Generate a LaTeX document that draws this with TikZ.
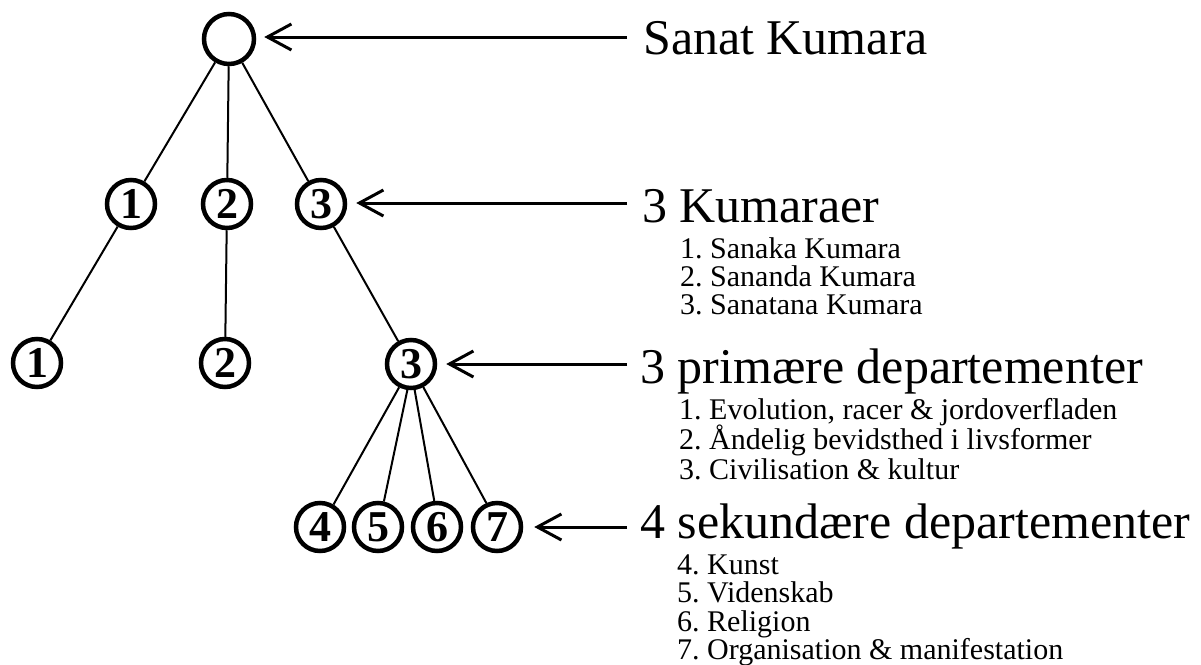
\documentclass[tikz,border=0pt]{standalone}
\usepackage{fontspec}
\setmainfont{Liberation Serif}
\usetikzlibrary{arrows.meta}
\frenchspacing
\begin{document}
\begin{tikzpicture}[x=1pt,y=-1pt,
  num/.style={circle,draw,line width=4.5pt,minimum size=48pt,inner sep=0pt,
    font=\fontsize{44}{44}\selectfont\bfseries},
  edge/.style={line width=2pt},
  arr/.style={line width=3pt,-{Straight Barb[length=24pt,width=26pt]}},
  big/.style={anchor=base west,inner sep=0pt,font=\fontsize{50}{50}\selectfont},
  item/.style={anchor=base west,inner sep=0pt,font=\fontsize{30}{30}\selectfont}]
\useasboundingbox[fill=white] (0,0) rectangle (1201,664);

% tree nodes
\node[num,minimum size=50pt] (top) at (229,39) {};
\node[num] (ka) at (131,204) {1};
\node[num] (kb) at (227,204) {2};
\node[num] (kc) at (321,204) {3};
\node[num] (pa) at (37,363) {1};
\node[num] (pb) at (225,363) {2};
\node[num] (pc) at (411,364) {3};
\node[num] (sa) at (320,527) {4};
\node[num] (sb) at (378,527) {5};
\node[num] (sc) at (437,527) {6};
\node[num] (sd) at (497,527) {7};

% tree edges
\draw[edge] (top) -- (ka);
\draw[edge] (top) -- (kb);
\draw[edge] (top) -- (kc);
\draw[edge] (ka) -- (pa);
\draw[edge] (kb) -- (pb);
\draw[edge] (kc) -- (pc);
\draw[edge] (pc.-117) -- (sa.59);
\draw[edge] (pc.-98) -- (sb.77);
\draw[edge] (pc.-82) -- (sc.96);
\draw[edge] (pc.-62) -- (sd.114);

% labels
\node[big] (l1) at (643,54) {Sanat Kumara};
\node[big] (l2) at (642,222) {3 Kumaraer};
\node[item] (l2a) at (680,258) {1. Sanaka Kumara};
\node[item] (l2b) at (680,286) {2. Sananda Kumara};
\node[item] (l2c) at (680,314) {3. Sanatana Kumara};
\node[big] (l3) at (640,383) {3 primære departementer};
\node[item] (l3a) at (679,419) {1. Evolution, racer \& jordoverfladen};
\node[item] (l3b) at (679,449) {2. Åndelig bevidsthed i livsformer};
\node[item] (l3c) at (679,479) {3. Civilisation \& kultur};
\node[big] (l4) at (640,538) {4 sekundære departementer};
\node[item] (l4a) at (677,574) {4. Kunst};
\node[item] (l4b) at (677,602) {5. Videnskab};
\node[item] (l4c) at (677,631) {6. Religion};
\node[item] (l4d) at (677,659) {7. Organisation \& manifestation};

% arrows
\coordinate (c1) at (627,37);
\coordinate (c2) at (627,203);
\coordinate (c3) at (627,364);
\coordinate (c4) at (627,527);
\draw[arr,shorten >=8pt] (c1) -- (c1 -| top.east);
\draw[arr,shorten >=9pt] (c2) -- (c2 -| kc.east);
\draw[arr,shorten >=9pt] (c3) -- (c3 -| pc.east);
\draw[arr,shorten >=11pt] (c4) -- (c4 -| sd.east);
\end{tikzpicture}
\end{document}
